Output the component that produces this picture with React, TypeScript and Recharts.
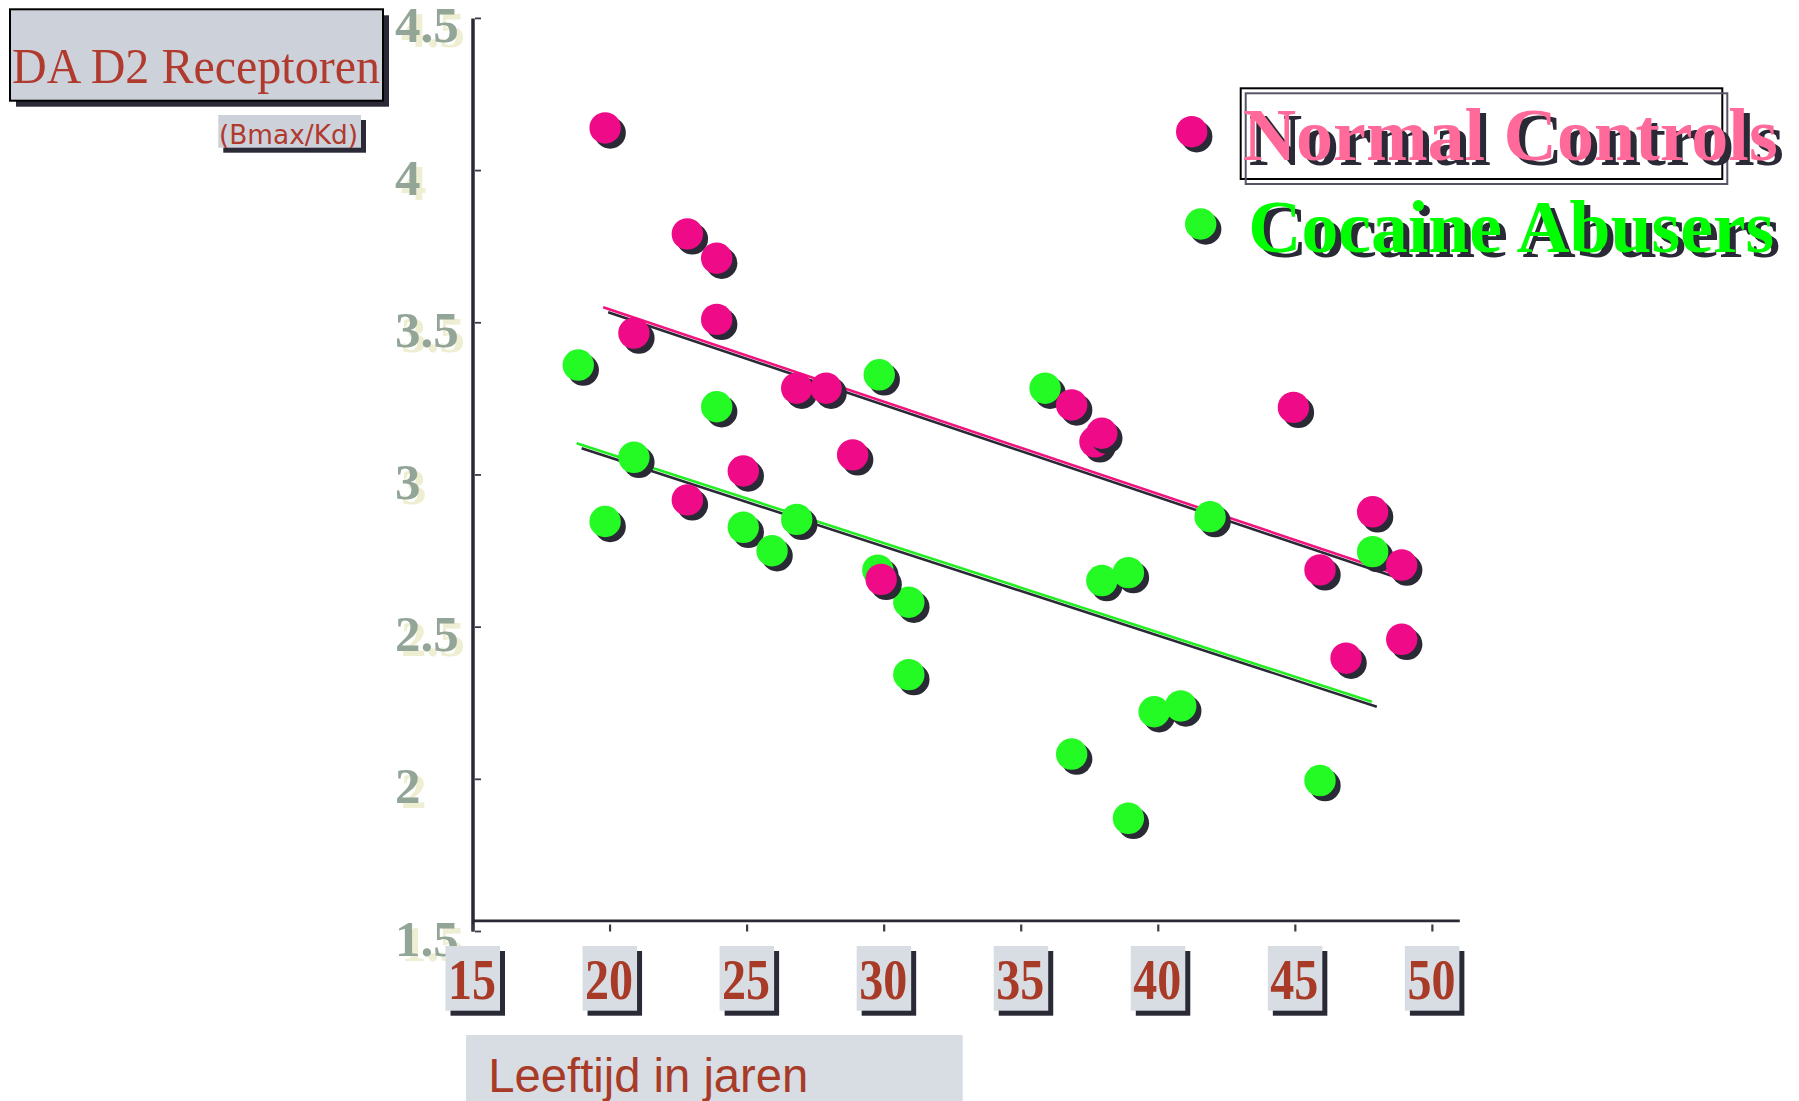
import React from 'react';
import { ScatterChart, Scatter, XAxis, YAxis, ReferenceLine, Legend } from 'recharts';

// axis ticks
const ageTicks = [15, 20, 25, 30, 35, 40, 45, 50];
const d2Ticks = [1.5, 2, 2.5, 3, 3.5, 4, 4.5];

// Normal Controls
const controlAge = [19.82, 20.87, 22.82, 22.82, 23.89, 23.89, 24.86, 26.81, 27.88, 28.85, 29.89, 36.84, 37.69, 37.94, 44.93, 45.9, 46.85, 47.82, 48.88, 48.88];
const controlD2 = [4.14, 3.466, 3.792, 2.918, 3.712, 3.511, 3.013, 3.285, 3.285, 3.066, 2.657, 3.23, 3.109, 3.137, 3.222, 2.688, 2.398, 2.879, 2.704, 2.46];

// Cocaine Abusers
const abuserAge = [18.84, 19.82, 20.87, 23.89, 24.86, 25.91, 26.81, 29.82, 29.77, 30.9, 30.9, 35.87, 36.84, 37.94, 38.91, 38.91, 39.85, 40.82, 41.89, 45.9, 47.82];
const abuserD2 = [3.361, 2.847, 3.058, 3.224, 2.828, 2.751, 2.854, 3.329, 2.687, 2.582, 2.344, 3.285, 2.083, 2.653, 2.679, 1.872, 2.222, 2.241, 2.863, 1.996, 2.748];

// regression lines (end points)
const controlFit = [{ x: 19.75, y: 3.551 }, { x: 48.6, y: 2.677 }];
const abuserFit = [{ x: 18.78, y: 3.104 }, { x: 47.79, y: 2.255 }];

const seriesNames = ['Normal Controls', 'Cocaine Abusers'];

const controls = controlAge.map((age, i) => ({ age, d2: controlD2[i] }));
const abusers = abuserAge.map((age, i) => ({ age, d2: abuserD2[i] }));

const SHADOW = '#2a2a36';
const PINK = '#ef0a88';
const GREEN = '#24fb24';
const SERIF = '"Liberation Serif", "Times New Roman", serif';
const SANS = '"Liberation Sans", Arial, sans-serif';

const legendText: Record<string, string> = {
  'Normal Controls': '#ff6a9a',
  'Cocaine Abusers': '#00ff00',
};

const Dot = (props: any) => {
  const { cx, cy, fill } = props;
  if (cx == null || cy == null) return null;
  return (
    <g>
      <circle cx={cx + 5} cy={cy + 5} r={15.7} fill={SHADOW} />
      <circle cx={cx} cy={cy} r={15.7} fill={fill} />
    </g>
  );
};

const fitShape = (color: string) => (props: any) => {
  const { x1, y1, x2, y2 } = props;
  return (
    <g>
      <line x1={x1 + 5} y1={y1 + 5} x2={x2 + 5} y2={y2 + 5} stroke={SHADOW} strokeWidth={2.6} />
      <line x1={x1} y1={y1} x2={x2} y2={y2} stroke={color} strokeWidth={2.6} />
    </g>
  );
};

const AgeTick = (props: any) => {
  const { x, y, payload } = props;
  return (
    <g>
      <line x1={x} y1={y - 7} x2={x} y2={y} stroke="#3a3a48" strokeWidth={2.2} />
      <rect x={x - 22.5} y={y + 19.5} width={54.5} height={64.7} fill={SHADOW} />
      <rect x={x - 27.5} y={y + 14.5} width={54.5} height={64.7} fill="#d8dce3" />
      <text
        x={x - 1}
        y={y + 67.5}
        textAnchor="middle"
        fontFamily={SERIF}
        fontWeight="bold"
        fontSize={56}
        fill="#a83a28"
        textLength={48}
        lengthAdjust="spacingAndGlyphs"
      >
        {payload.value}
      </text>
    </g>
  );
};

const D2Tick = (props: any) => {
  const { x, y, payload } = props;
  const label = String(payload.value);
  return (
    <g>
      <line x1={x + 2} y1={y} x2={x + 8} y2={y} stroke="#3a3a48" strokeWidth={1.8} />
      <text x={x - 72} y={y + 29} fontFamily={SERIF} fontWeight="bold" fontSize={51} fill="#eeeed2">
        {label}
      </text>
      <text x={x - 78} y={y + 24} fontFamily={SERIF} fontWeight="bold" fontSize={51} fill="#93a597">
        {label}
      </text>
    </g>
  );
};

const renderLegend = (props: any) => {
  const payload: any[] = props.payload || [];
  const rows = [
    { dotX: 1191.7, dotY: 131.7, textX: 1242.7, base: 160, len: 535 },
    { dotX: 1200.7, dotY: 224, textX: 1248.3, base: 251.7, len: 526 },
  ];
  return (
    <svg width={1799} height={300}>
      <rect x={1240.7} y={88.3} width={481.6} height={90.7} fill="none" stroke="#000" strokeWidth={2} />
      <rect x={1245.7} y={93.3} width={481.6} height={90.7} fill="none" stroke="#555566" strokeWidth={2} />
      {seriesNames.map((name, i) => {
        const entry = payload.find((p) => p.value === name);
        const r = rows[i];
        return (
          <g key={name}>
            <circle cx={r.dotX + 5} cy={r.dotY + 5} r={15.7} fill={SHADOW} />
            <circle cx={r.dotX} cy={r.dotY} r={15.7} fill={entry ? entry.color : PINK} />
            <text x={r.textX + 6} y={r.base + 5} fontFamily={SERIF} fontWeight="bold" fontSize={73} fill={SHADOW} textLength={r.len} lengthAdjust="spacingAndGlyphs">
              {name}
            </text>
            <text x={r.textX} y={r.base} fontFamily={SERIF} fontWeight="bold" fontSize={73} fill={legendText[name]} textLength={r.len} lengthAdjust="spacingAndGlyphs">
              {name}
            </text>
          </g>
        );
      })}
    </svg>
  );
};

export default function App() {
  return (
    <div style={{ position: 'absolute', left: 0, top: 0, width: 1799, height: 1101, background: '#fff' }}>
      <ScatterChart
        width={1799}
        height={1101}
        margin={{ top: 18.4, right: 339.2, bottom: 109.5, left: 393 }}
      >
        <YAxis
          type="number"
          dataKey="d2"
          domain={[1.5, 4.5]}
          ticks={d2Ticks}
          interval={0}
          width={80}
          tickSize={0}
          tickMargin={0}
          tickLine={false}
          axisLine={{ stroke: SHADOW, strokeWidth: 3.5 }}
          tick={<D2Tick />}
        />
        <XAxis
          type="number"
          dataKey="age"
          domain={[15, 51]}
          ticks={ageTicks}
          interval={0}
          height={60}
          tickSize={0}
          tickMargin={0}
          tickLine={false}
          axisLine={false}
          tick={<AgeTick />}
        />
        <ReferenceLine y={1.535} stroke={SHADOW} strokeWidth={2.7} />
        <ReferenceLine segment={abuserFit} shape={fitShape('#22ee22')} />
        <ReferenceLine segment={controlFit} shape={fitShape('#f0147e')} />
        <Legend
          layout="horizontal"
          verticalAlign="middle"
          align="center"
          wrapperStyle={{ position: 'absolute', left: 0, top: 0, width: 1799, height: 300 }}
          content={renderLegend}
        />
        <Scatter name="Cocaine Abusers" data={abusers} fill={GREEN} shape={<Dot />} isAnimationActive={false} />
        <Scatter name="Normal Controls" data={controls} fill={PINK} shape={<Dot />} isAnimationActive={false} />
      </ScatterChart>
      <svg width={1799} height={1101} style={{ position: 'absolute', left: 0, top: 0, pointerEvents: 'none' }}>
        <rect x={16} y={15.3} width={373} height={91.4} fill={SHADOW} />
        <rect x={10} y={9.3} width={373} height={91.4} fill="#cdd1da" stroke="#000" strokeWidth={2} />
        <text x={12} y={83.3} fontFamily={SERIF} fontSize={50} fill="#b03a2e" textLength={368} lengthAdjust="spacingAndGlyphs">
          DA D2 Receptoren
        </text>
        <rect x={223.3} y={120} width={142.7} height={32.7} fill={SHADOW} />
        <rect x={218.3} y={115} width={142.7} height={32.7} fill="#cdd1da" />
        <text x={219} y={144} fontFamily='"DejaVu Sans", Verdana, sans-serif' fontSize={26} fill="#b03a2e" textLength={139} lengthAdjust="spacingAndGlyphs">
          (Bmax/Kd)
        </text>
        <rect x={466} y={1035} width={496.7} height={70} fill="#d8dce3" />
        <text x={488.3} y={1091.7} fontFamily={SANS} fontSize={48} fill="#a83a28" textLength={320} lengthAdjust="spacingAndGlyphs">
          Leeftijd in jaren
        </text>
      </svg>
    </div>
  );
}
